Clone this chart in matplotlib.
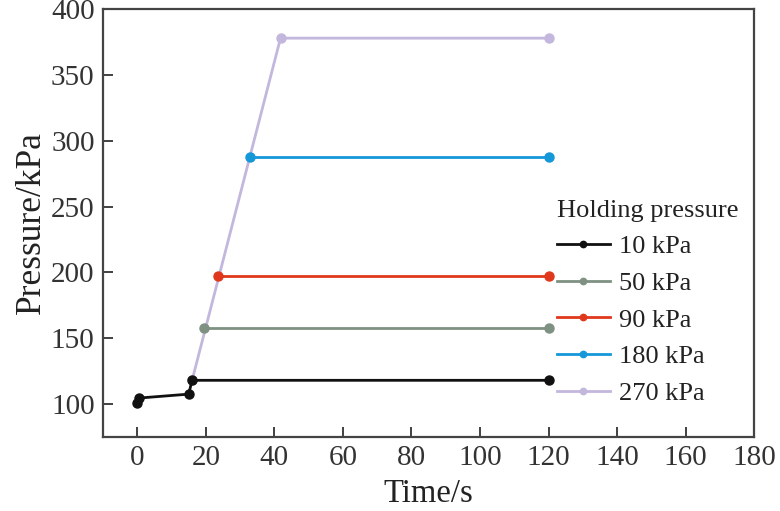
import matplotlib
matplotlib.use("Agg")
import matplotlib.pyplot as plt

plt.rcParams['font.family'] = ['Liberation Serif', 'DejaVu Serif']

# ramp + holding curves
labels = ["10 kPa", "50 kPa", "90 kPa", "180 kPa", "270 kPa"]
colors = ["#111111", "#7f9182", "#e0381c", "#1597d8", "#c3b7dd"]

t_10 = [0, 0.4, 15, 16, 120]
p_10 = [100.5, 104.5, 107.5, 118, 118]
t_50 = [19.6, 120]
p_50 = [158, 158]
t_90 = [23.5, 120]
p_90 = [197, 197]
t_180 = [32.8, 120]
p_180 = [288, 288]
t_270 = [16, 41.8, 120]
p_270 = [118, 378, 378]

x_ticks = [0, 20, 40, 60, 80, 100, 120, 140, 160, 180]
y_ticks = [100, 150, 200, 250, 300, 350, 400]

series = [(t_10, p_10), (t_50, p_50), (t_90, p_90), (t_180, p_180), (t_270, p_270)]

fig = plt.figure(figsize=(7.8, 5.11), dpi=100)
ax = fig.add_axes([0.132, 0.145, 0.835, 0.837])

# draw 270 first so the other lines sit on top of its ramp
handles = []
for i in reversed(range(len(series))):
    t, p = series[i]
    h, = ax.plot(t, p, color=colors[i], lw=2.0, marker='o', ms=6.5,
                 label=labels[i], zorder=3 + (len(series) - i))
    handles.append(h)
handles = handles[::-1]

ax.set_xlim(-10, 180)
ax.set_ylim(75, 400)
ax.set_xticks(x_ticks)
ax.set_yticks(y_ticks)
ax.tick_params(direction='in', length=7, width=1.3, labelsize=21,
               labelcolor='#333333', color='#333333', pad=6)
for s in ax.spines.values():
    s.set_linewidth(1.6)
    s.set_color('#444444')

ax.set_xlabel("Time/s", fontsize=23.5, color='#222222', labelpad=5)
ax.set_ylabel("Pressure/kPa", fontsize=25.5, color='#222222', labelpad=2)

leg = ax.legend(handles, labels, title="Holding pressure", loc='upper left',
                bbox_to_anchor=(0.697, 0.555), frameon=False, fontsize=19,
                title_fontsize=19, handlelength=2.0, handletextpad=0.35,
                markerscale=0.7, labelspacing=0.5, borderpad=0,
                borderaxespad=0, alignment='left')
for txt in leg.get_texts():
    txt.set_color('#222222')
leg.get_title().set_color('#222222')

fig.savefig("out.png", dpi=100)
